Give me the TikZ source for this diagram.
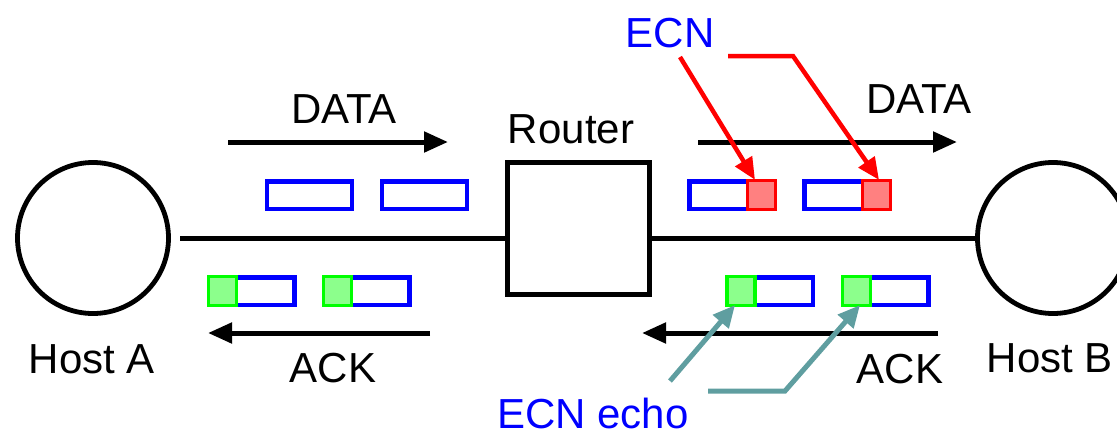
\documentclass[tikz,border=0pt]{standalone}
\usepackage{fontspec}
\setmainfont{Liberation Sans}
\usetikzlibrary{arrows.meta}
\definecolor{ecnblue}{RGB}{0,0,255}
\definecolor{ecnred}{RGB}{255,0,0}
\definecolor{ecngreen}{RGB}{0,255,0}
\definecolor{echoteal}{RGB}{95,158,160}
\begin{document}
\begin{tikzpicture}[x=1pt,y=-1pt,
  lbl/.style={font=\fontsize{42}{50}\selectfont, inner sep=0pt, anchor=base},
  host/.style={circle, draw=black, line width=4.8pt, minimum size=151pt, inner sep=0pt},
  routerbox/.style={rectangle, draw=black, line width=4.8pt, minimum width=142pt, minimum height=132pt, inner sep=0pt},
  pkt/.style={rectangle, draw=ecnblue, line width=4.5pt, minimum width=85pt, minimum height=27.5pt, inner sep=0pt},
  cemark/.style={rectangle, draw=ecnred, line width=3.2pt, minimum width=28pt, minimum height=29pt, inner sep=0pt, fill=ecnred!50!white},
  ecemark/.style={rectangle, draw=ecngreen, line width=3.2pt, minimum width=28pt, minimum height=29pt, inner sep=0pt, fill=ecngreen!45!white},
  link/.style={line width=5pt},
  flow/.style={line width=5pt, -{Triangle[length=24pt,width=20pt]}},
  ecnarrow/.style={draw=ecnred, line width=4.5pt, line join=miter, -{Triangle[length=22pt,width=19pt]}},
  echoarrow/.style={draw=echoteal, line width=5pt, line join=miter, -{Triangle[length=22pt,width=20pt]}}]
\path[use as bounding box, clip] (0,0) rectangle (1117,432);

% hosts and router
\node[host] (hostA) at (93,238) {};
\node[host] (hostB) at (1053,238) {};
\node[routerbox] (router) at (578.5,228.5) {};
\node[lbl] (hostAlbl) at (92,373) {Host A};
\node[lbl] (hostBlbl) at (1050,372) {Host B};
\node[lbl] (routerlbl) at (571,143) {Router};

% links
\coordinate (la) at (180,238);
\draw[link] (la) -- (la -| router.west);
\draw[link] (hostB.west -| router.east) -- (hostB.west);

% data packets (upper)
\node[pkt] (d1) at (309.5,195) {};
\node[pkt] (d2) at (424.5,195) {};
\node[pkt] (d3) at (732,195) {};
\node[pkt] (d4) at (847,195) {};
\node[cemark] (ce1) at (761.5,195) {};
\node[cemark] (ce2) at (876.5,195) {};

% ack packets (lower)
\node[pkt] (a1) at (252,291) {};
\node[pkt] (a2) at (367,291) {};
\node[pkt] (a3) at (770.5,291) {};
\node[pkt] (a4) at (886,291) {};
\node[ecemark] (e1) at (222.5,291) {};
\node[ecemark] (e2) at (337.5,291) {};
\node[ecemark] (e3) at (741,291) {};
\node[ecemark] (e4) at (856.5,291) {};

% flow arrows and labels
\coordinate (dl0) at (228,142); \coordinate (dl1) at (448,142);
\coordinate (dr0) at (698,142); \coordinate (dr1) at (957,142);
\coordinate (al0) at (430,333); \coordinate (al1) at (208,333);
\coordinate (ar0) at (938,333); \coordinate (ar1) at (642,333);
\draw[flow] (dl0) -- (dl1);
\draw[flow] (dr0) -- (dr1);
\draw[flow] (al0) -- (al1);
\draw[flow] (ar0) -- (ar1);
\node[lbl] (datal) at (344,123) {DATA};
\node[lbl] (datar) at (919,113) {DATA};
\node[lbl] (ackl) at (333,382) {ACK};
\node[lbl] (ackr) at (900,383) {ACK};

% ECN labels and pointers
\node[lbl, text=ecnblue] (ecn) at (670,47) {ECN};
\node[lbl, text=ecnblue] (echo) at (593,428) {ECN echo};
\coordinate (ecnA) at (680,57);
\coordinate (ecnB) at (728,56);
\coordinate (ecnBk) at (793,56);
\draw[ecnarrow] (ecnA) -- ([xshift=-6.5pt,yshift=-1pt]ce1.north);
\draw[ecnarrow] (ecnB) -- (ecnBk) -- ([xshift=2.5pt,yshift=-1pt]ce2.north);

\coordinate (echoA) at (670,381);
\coordinate (echoB) at (708,391);
\coordinate (echoBk) at (785,391);
\draw[echoarrow] (echoA) -- ([xshift=-6pt,yshift=2pt]e3.south);
\draw[echoarrow] (echoB) -- (echoBk) -- ([xshift=3.5pt,yshift=2pt]e4.south);
\end{tikzpicture}
\end{document}
